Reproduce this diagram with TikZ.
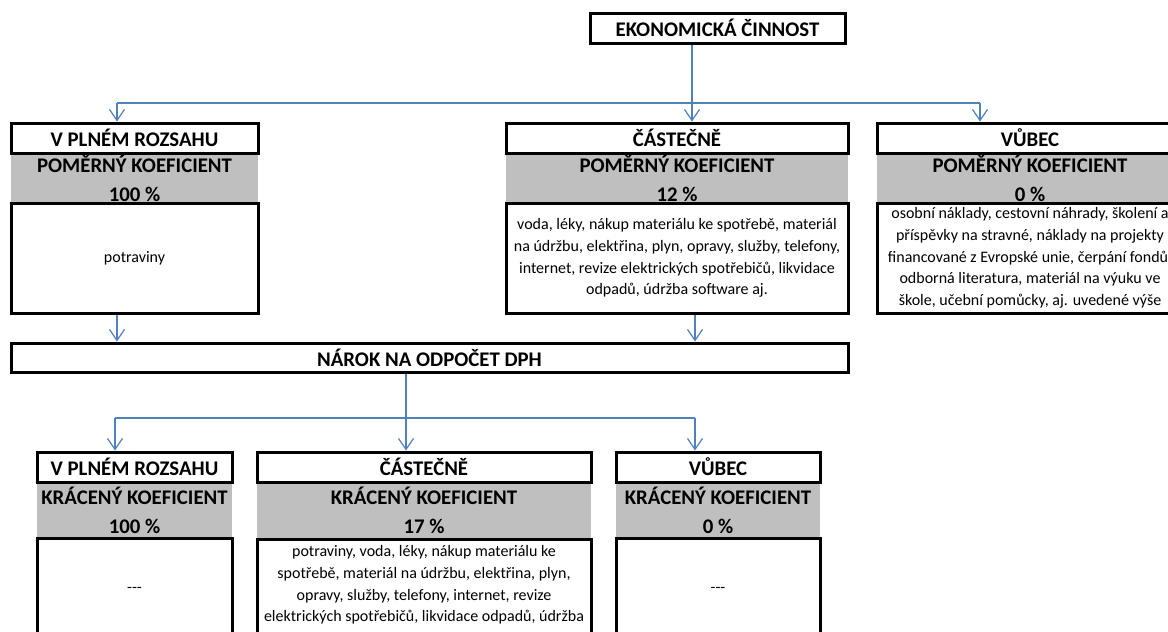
\documentclass[tikz,border=0pt]{standalone}
\usepackage{fontspec}
\setmainfont{Carlito}
\usepackage{tikz}
\usetikzlibrary{arrows.meta}
\definecolor{bandgray}{RGB}{191,191,191}
\definecolor{busblue}{RGB}{79,129,189}

\begin{document}
\begin{tikzpicture}[x=1pt,y=-1pt,
  head/.style={draw,line width=3pt,fill=white,inner sep=0pt,minimum height=30,font=\bfseries\fontsize{20.8}{24}\selectfont},
  band/.style={fill=bandgray,inner sep=0pt,align=center,font=\bfseries\fontsize{20.8}{29}\selectfont},
  list/.style={draw,line width=3pt,inner sep=0pt,align=center,font=\fontsize{16}{21.7}\selectfont},
  bus/.style={busblue,line width=1.2pt},
  arr/.style={bus,-{Straight Barb[length=11pt,width=15pt]}}]
\path[use as bounding box,clip] (0,0) rectangle (1168,632);
\fill[white] (0,0) rectangle (1168,632);

\node[head,minimum width=255] (econ) at (717.5,28) {EKONOMICKÁ ČINNOST};

\node[band,minimum width=247,minimum height=50] (pbandA) at (134.5,178) {POMĚRNÝ KOEFICIENT\\100 \%};
\node[head,minimum width=247] (pheadA) at (134.5,138) {V PLNÉM ROZSAHU};
\node[list,minimum width=247,minimum height=110] (plistA) at (134.5,258) {potraviny};

\node[band,minimum width=342,minimum height=50] (pbandB) at (677,178) {POMĚRNÝ KOEFICIENT\\12 \%};
\node[head,minimum width=342] (pheadB) at (677,138) {ČÁSTEČNĚ};
\node[list,minimum width=342,minimum height=110] (plistB) at (677,258) {voda, léky, nákup materiálu ke spotřebě, materiál\\na údržbu, elektřina, plyn, opravy, služby, telefony,\\internet, revize elektrických spotřebičů, likvidace\\odpadů, údržba software aj.};

\node[band,minimum width=306,minimum height=50] (pbandC) at (1030,178) {POMĚRNÝ KOEFICIENT\\0 \%};
\node[head,minimum width=306] (pheadC) at (1030,138) {VŮBEC};
\node[list,minimum width=306,minimum height=110] (plistC) at (1030,258) {osobní náklady, cestovní náhrady, školení a\\příspěvky na stravné, náklady na projekty\\financované z Evropské unie, čerpání fondů,\\odborná literatura, materiál na výuku ve\\škole, učební pomůcky, aj. uvedené výše};

\node[head,minimum width=837,minimum height=29] (claim) at (429.5,357.5) {NÁROK NA ODPOČET DPH};

\node[band,minimum width=195,minimum height=56] (kbandA) at (134.5,510) {KRÁCENÝ KOEFICIENT\\100 \%};
\node[head,minimum width=195] (kheadA) at (134.5,467) {V PLNÉM ROZSAHU};
\node[list,minimum width=195,minimum height=104] (klistA) at (134.5,590) {-{}-{}-};

\node[band,minimum width=334,minimum height=56] (kbandB) at (424,510) {KRÁCENÝ KOEFICIENT\\17 \%};
\node[head,minimum width=334] (kheadB) at (424,467) {ČÁSTEČNĚ};
\node[list,minimum width=334,minimum height=114] (klistB) at (424,596) {potraviny, voda, léky, nákup materiálu ke\\spotřebě, materiál na údržbu, elektřina, plyn,\\opravy, služby, telefony, internet, revize\\elektrických spotřebičů, likvidace odpadů, údržba\\software aj.};

\node[band,minimum width=204,minimum height=56] (kbandC) at (718,510) {KRÁCENÝ KOEFICIENT\\0 \%};
\node[head,minimum width=204] (kheadC) at (718,467) {VŮBEC};
\node[list,minimum width=204,minimum height=104] (klistC) at (718,590) {-{}-{}-};

\coordinate (split) at (692,103);
\coordinate (tA) at (117,103);
\coordinate (tC) at (980,103);
\draw[bus] (split |- econ.south) -- (split);
\draw[bus] (tA) -- (tC);
\draw[arr] (tA) -- (tA |- pheadA.north);
\draw[arr] (split) -- (split |- pheadB.north);
\draw[arr] (tC) -- (tC |- pheadC.north);

\coordinate (dB) at (695,0);
\draw[arr] (tA |- plistA.south) -- (tA |- claim.north);
\draw[arr] (dB |- plistB.south) -- (dB |- claim.north);

\coordinate (split2) at (406,418);
\coordinate (uA) at (115,418);
\coordinate (uC) at (695,418);
\draw[bus] (split2 |- claim.south) -- (split2);
\draw[bus] (uA) -- (uC);
\draw[arr] (uA) -- (uA |- kheadA.north);
\draw[arr] (split2) -- (split2 |- kheadB.north);
\draw[arr] (uC) -- (uC |- kheadC.north);
\end{tikzpicture}
\end{document}
